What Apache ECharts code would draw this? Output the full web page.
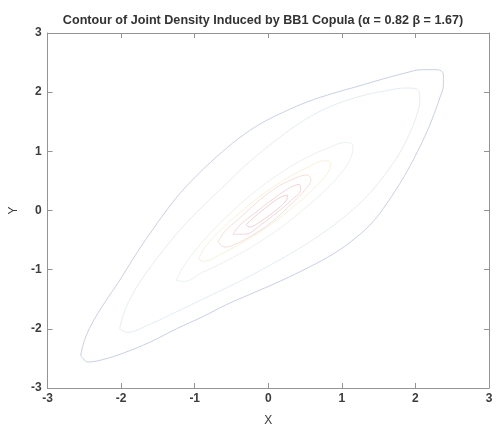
<!DOCTYPE html>
<html>
<head>
<meta charset="utf-8">
<script src="https://cdn.jsdelivr.net/npm/echarts@6/dist/echarts.min.js"></script>
<style>
  html, body { margin: 0; padding: 0; background: #ffffff; }
  #chart { width: 496px; height: 432px; }
</style>
</head>
<body>
<div id="chart"></div>
<script>
// Axis ticks
var xTicks = [-3, -2, -1, 0, 1, 2, 3];
var yTicks = [-3, -2, -1, 0, 1, 2, 3];

// Contour lines of the joint density, each a closed loop of [x, y] points,
// ordered from the lowest level (outermost) to the highest (innermost).
var contourLevel1 = [
  [-2.55, -2.45], [-2.50, -2.20], [-2.40, -1.92], [-2.22, -1.55], [-2.04, -1.22],
  [-1.88, -0.90], [-1.73, -0.61], [-1.58, -0.34], [-1.42, -0.06], [-1.22, 0.26],
  [-0.98, 0.58], [-0.70, 0.91], [-0.40, 1.22], [-0.10, 1.47], [0.22, 1.67],
  [0.54, 1.84], [0.88, 1.98], [1.22, 2.10], [1.55, 2.22], [1.85, 2.32],
  [2.10, 2.38], [2.30, 2.38], [2.38, 2.30], [2.38, 2.12], [2.33, 1.90],
  [2.25, 1.62], [2.16, 1.34], [2.03, 1.00], [1.89, 0.67], [1.75, 0.38],
  [1.60, 0.10], [1.43, -0.18], [1.20, -0.45], [0.90, -0.72], [0.55, -0.96],
  [0.17, -1.19], [-0.18, -1.38], [-0.55, -1.58], [-0.90, -1.80], [-1.25, -2.00],
  [-1.60, -2.22], [-1.95, -2.40], [-2.25, -2.52], [-2.45, -2.56], [-2.55, -2.45]
];
var contourLevel2 = [
  [-2.02, -2.00], [-1.96, -1.72], [-1.82, -1.36], [-1.64, -1.02], [-1.42, -0.66],
  [-1.18, -0.30], [-0.90, 0.06], [-0.58, 0.44], [-0.24, 0.84], [0.12, 1.20],
  [0.48, 1.52], [0.85, 1.76], [1.22, 1.92], [1.58, 2.02], [1.88, 2.07],
  [2.02, 2.05], [2.06, 1.88], [2.02, 1.62], [1.92, 1.30], [1.78, 0.96],
  [1.58, 0.60], [1.34, 0.24], [1.06, -0.08], [0.72, -0.40], [0.34, -0.70],
  [-0.06, -0.98], [-0.46, -1.24], [-0.86, -1.48], [-1.26, -1.72], [-1.64, -1.94],
  [-1.92, -2.06], [-2.02, -2.00]
];
var contourLevel3 = [
  [-1.25, -1.18], [-1.18, -1.00], [-1.02, -0.72], [-0.80, -0.40], [-0.52, -0.05],
  [-0.20, 0.30], [0.15, 0.62], [0.50, 0.88], [0.82, 1.06], [1.05, 1.15],
  [1.15, 1.10], [1.13, 0.92], [1.00, 0.65], [0.78, 0.35], [0.50, 0.04],
  [0.18, -0.28], [-0.18, -0.58], [-0.55, -0.84], [-0.90, -1.05], [-1.15, -1.20],
  [-1.25, -1.18]
];
var contourLevel4 = [
  [-0.95, -0.82], [-0.86, -0.62], [-0.66, -0.34], [-0.40, -0.05], [-0.10, 0.25],
  [0.22, 0.52], [0.52, 0.72], [0.76, 0.84], [0.85, 0.80], [0.80, 0.62],
  [0.60, 0.35], [0.33, 0.05], [0.02, -0.25], [-0.32, -0.52], [-0.65, -0.74],
  [-0.88, -0.86], [-0.95, -0.82]
];
var contourLevel5 = [
  [-0.68, -0.52], [-0.58, -0.34], [-0.40, -0.14], [-0.15, 0.14], [0.10, 0.38],
  [0.32, 0.52], [0.52, 0.60], [0.58, 0.52], [0.50, 0.35], [0.32, 0.12],
  [0.10, -0.14], [-0.14, -0.36], [-0.40, -0.54], [-0.60, -0.62], [-0.68, -0.52]
];
var contourLevel6 = [
  [-0.48, -0.40], [-0.38, -0.24], [-0.18, -0.04], [0.05, 0.18], [0.26, 0.36],
  [0.42, 0.44], [0.44, 0.36], [0.32, 0.18], [0.12, -0.03], [-0.10, -0.24],
  [-0.32, -0.40], [-0.48, -0.40]
];
var contourLevel7 = [
  [-0.30, -0.24], [-0.18, -0.10], [0.00, 0.08], [0.16, 0.22], [0.26, 0.26],
  [0.24, 0.16], [0.08, -0.02], [-0.10, -0.18], [-0.26, -0.28], [-0.30, -0.24]
];

var contours = [contourLevel1, contourLevel2, contourLevel3, contourLevel4,
                contourLevel5, contourLevel6, contourLevel7];
var contourColors = ['#c9d0e4', '#e5edf2', '#ebf2ec', '#f7f1dd', '#f3e0da', '#f1d7db', '#eed0d5'];

var textFont = 'Liberation Sans, Arial, Helvetica, sans-serif';
var axisGray = '#949494';
var textColor = '#3c3c3c';

function baseAxis(extra) {
  var a = {
    type: 'value',
    min: -3,
    max: 3,
    interval: 1,
    splitLine: { show: false },
    axisLine: { show: true, onZero: false, lineStyle: { color: axisGray, width: 1 } },
    axisTick: { show: true, inside: true, length: 5, lineStyle: { color: axisGray } },
    axisLabel: { show: false }
  };
  for (var k in extra) a[k] = extra[k];
  return a;
}

var series = contours.map(function (pts, i) {
  return {
    type: 'line',
    data: pts,
    smooth: 0.4,
    showSymbol: false,
    symbol: 'none',
    silent: true,
    xAxisIndex: 0,
    yAxisIndex: 0,
    lineStyle: { color: contourColors[i], width: 1 },
    z: 3
  };
});

var chart = echarts.init(document.getElementById('chart'), null, { renderer: 'canvas' });
chart.setOption({
  animation: false,
  backgroundColor: '#ffffff',
  title: {
    text: 'Contour of Joint Density Induced by BB1 Copula (\u03b1 = 0.82 \u03b2 = 1.67)',
    left: 258,
    textAlign: 'center',
    top: 9,
    textStyle: { fontFamily: textFont, fontSize: 12.6, fontWeight: 'bold', color: '#333333' }
  },
  grid: { left: 46, right: 7, top: 33, bottom: 38, containLabel: false },
  xAxis: [
    baseAxis({
      position: 'bottom',
      name: 'X',
      nameLocation: 'middle',
      nameGap: 27,
      nameTextStyle: { fontFamily: textFont, fontSize: 12, color: textColor },
      axisLabel: {
        show: true, margin: 5, fontFamily: textFont, fontSize: 12, fontWeight: 'bold', color: textColor,
        formatter: function (v) { return xTicks.indexOf(v) >= 0 ? String(v) : ''; }
      }
    }),
    baseAxis({ position: 'top' })
  ],
  yAxis: [
    baseAxis({
      position: 'left',
      name: 'Y',
      nameLocation: 'middle',
      nameGap: 19,
      nameRotate: 90,
      nameTextStyle: { fontFamily: textFont, fontSize: 12, color: textColor },
      axisLabel: {
        show: true, margin: 6, fontFamily: textFont, fontSize: 12, fontWeight: 'bold', color: textColor,
        formatter: function (v) { return yTicks.indexOf(v) >= 0 ? String(v) : ''; }
      }
    }),
    baseAxis({ position: 'right' })
  ],
  series: series
});
</script>
</body>
</html>
